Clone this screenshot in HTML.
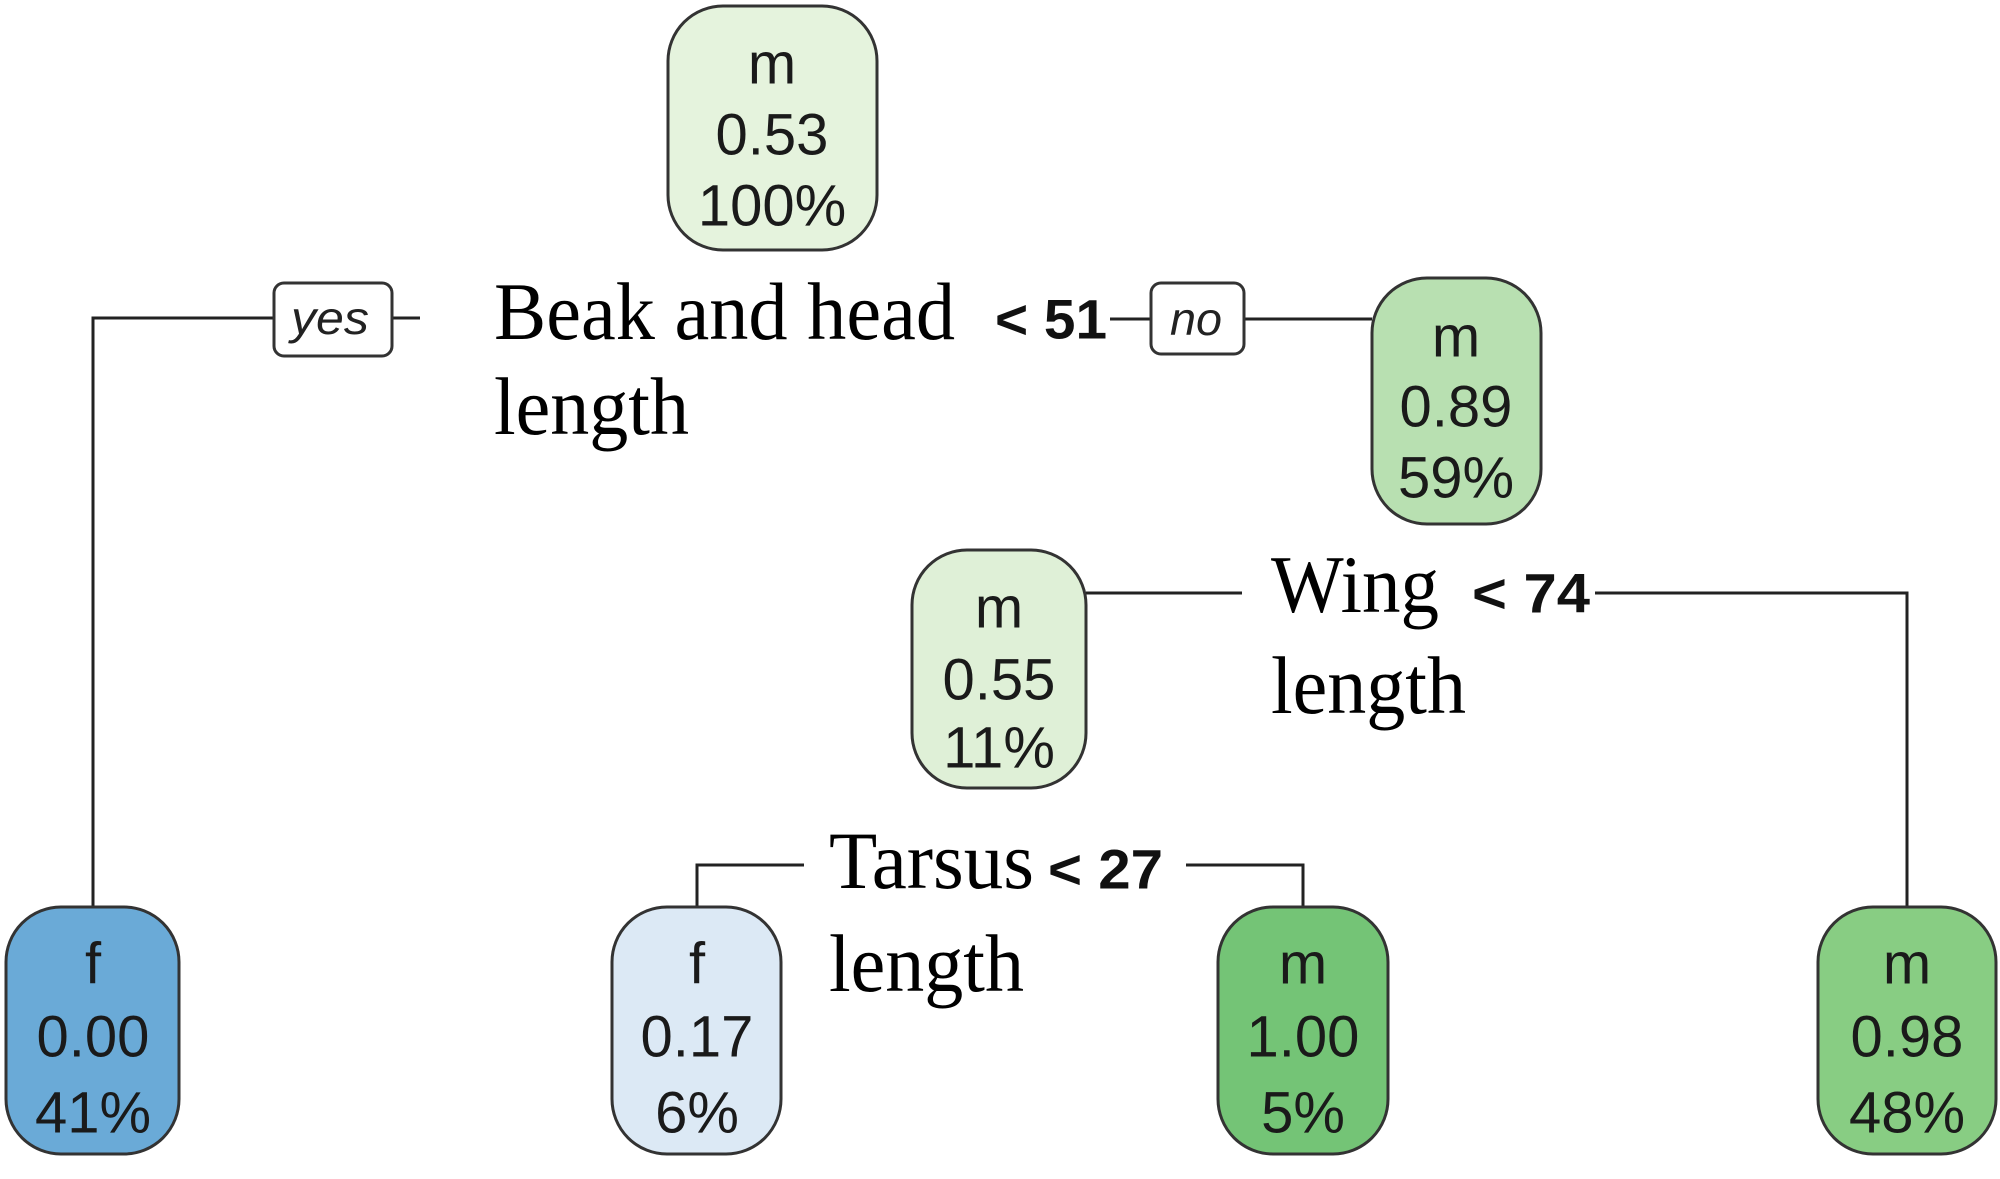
<!DOCTYPE html>
<html><head><meta charset="utf-8"><style>
html,body{margin:0;padding:0;background:#fff;}
svg{display:block;}
.n{font-family:"Liberation Sans",Arial,sans-serif;font-size:58px;fill:#1a1a1a;text-anchor:middle;dominant-baseline:central;}
.t{font-family:"Liberation Serif","Times New Roman",serif;font-size:82px;fill:#000;}
.b{font-family:"Liberation Sans",Arial,sans-serif;font-size:56px;font-weight:bold;fill:#111;dominant-baseline:central;}
.i{font-family:"Liberation Sans",Arial,sans-serif;font-size:46px;font-style:italic;fill:#222;text-anchor:middle;dominant-baseline:central;}
.box{stroke:#333;stroke-width:3;}
.ln{stroke:#222;stroke-width:3;fill:none;}
</style></head><body>
<svg width="2000" height="1179" viewBox="0 0 2000 1179" xmlns="http://www.w3.org/2000/svg">
<!-- connectors -->
<polyline class="ln" points="274,318 93,318 93,907"/>
<line class="ln" x1="392" y1="318" x2="420" y2="318"/>
<line class="ln" x1="1110" y1="319" x2="1151" y2="319"/>
<line class="ln" x1="1244" y1="319" x2="1372" y2="319"/>
<line class="ln" x1="1086" y1="593" x2="1242" y2="593"/>
<polyline class="ln" points="1595,593 1907,593 1907,907"/>
<polyline class="ln" points="804,865 697,865 697,907"/>
<polyline class="ln" points="1186,865 1303,865 1303,907"/>

<!-- yes/no boxes -->
<rect class="box" x="274" y="283" width="118" height="73" rx="10" fill="#fff"/>
<text class="i" x="330" y="318" textLength="78" lengthAdjust="spacingAndGlyphs">yes</text>
<rect class="box" x="1151" y="283" width="93" height="71" rx="10" fill="#fff"/>
<text class="i" x="1196" y="319" textLength="52" lengthAdjust="spacingAndGlyphs">no</text>

<!-- root -->
<rect class="box" x="668" y="6" width="209" height="244" rx="55" fill="#e5f3dd"/>
<text class="n" x="772" y="64">m</text>
<text class="n" x="772" y="135">0.53</text>
<text class="n" x="772" y="206">100%</text>

<!-- 0.89 -->
<rect class="box" x="1372" y="278" width="169" height="246" rx="55" fill="#b8e0b1"/>
<text class="n" x="1456" y="337">m</text>
<text class="n" x="1456" y="407">0.89</text>
<text class="n" x="1456" y="478">59%</text>

<!-- 0.55 -->
<rect class="box" x="912" y="550" width="174" height="238" rx="55" fill="#dff0d7"/>
<text class="n" x="999" y="608">m</text>
<text class="n" x="999" y="680">0.55</text>
<text class="n" x="999" y="748">11%</text>

<!-- leaves -->
<rect class="box" x="6" y="907" width="173" height="247" rx="55" fill="#6aaad7"/>
<text class="n" x="93" y="964">f</text>
<text class="n" x="93" y="1037">0.00</text>
<text class="n" x="93" y="1113">41%</text>

<rect class="box" x="612" y="907" width="169" height="247" rx="55" fill="#dce9f5"/>
<text class="n" x="697" y="964">f</text>
<text class="n" x="697" y="1037">0.17</text>
<text class="n" x="697" y="1113">6%</text>

<rect class="box" x="1218" y="907" width="170" height="247" rx="55" fill="#74c476"/>
<text class="n" x="1303" y="964">m</text>
<text class="n" x="1303" y="1037">1.00</text>
<text class="n" x="1303" y="1113">5%</text>

<rect class="box" x="1818" y="907" width="178" height="247" rx="55" fill="#88cd83"/>
<text class="n" x="1907" y="964">m</text>
<text class="n" x="1907" y="1037">0.98</text>
<text class="n" x="1907" y="1113">48%</text>

<!-- split labels -->
<text class="t" x="494" y="339" textLength="461" lengthAdjust="spacingAndGlyphs">Beak and head</text>
<text class="t" x="494" y="434" textLength="195" lengthAdjust="spacingAndGlyphs">length</text>
<text class="b" x="995" y="319" textLength="112" lengthAdjust="spacingAndGlyphs">&lt; 51</text>

<text class="t" x="1271" y="612" textLength="168" lengthAdjust="spacingAndGlyphs">Wing</text>
<text class="t" x="1271" y="713" textLength="195" lengthAdjust="spacingAndGlyphs">length</text>
<text class="b" x="1472" y="593" textLength="118" lengthAdjust="spacingAndGlyphs">&lt; 74</text>

<text class="t" x="829" y="888" textLength="205" lengthAdjust="spacingAndGlyphs">Tarsus</text>
<text class="t" x="829" y="991" textLength="195" lengthAdjust="spacingAndGlyphs">length</text>
<text class="b" x="1048" y="869" textLength="115" lengthAdjust="spacingAndGlyphs">&lt; 27</text>
</svg>
</body></html>
